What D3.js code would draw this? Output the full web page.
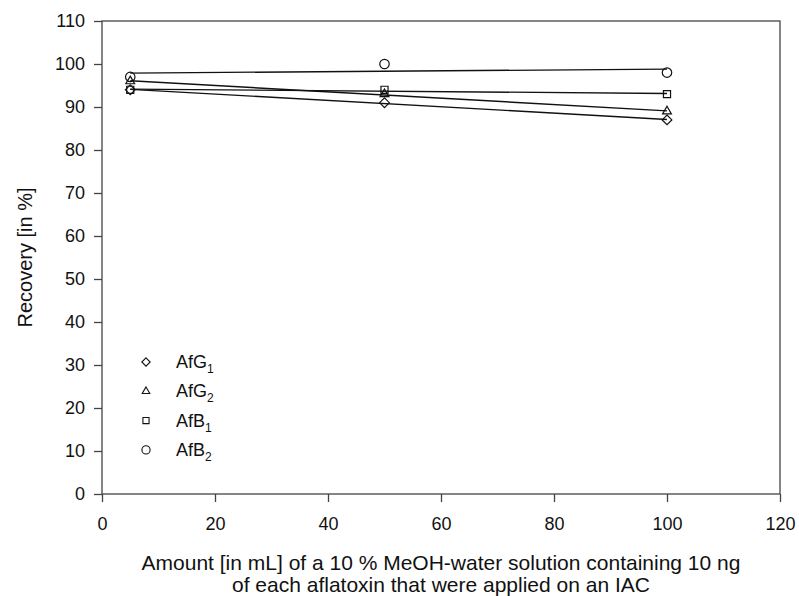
<!DOCTYPE html>
<html>
<head>
<meta charset="utf-8">
<script src="https://cdn.jsdelivr.net/npm/d3@7"></script>
<style>
	body { margin: 0; background: white; }
	text { font-family: 'Liberation Sans', Arial, sans-serif; fill: #111; }
</style>
</head>
<body>
<svg id="chart" width="799" height="596"></svg>
<script>
// data
var xValues = [5, 50, 100];
var afG1 = [94, 91, 87];
var afG2 = [96, 93, 89];
var afB1 = [94, 94, 93];
var afB2 = [97, 100, 98];
var seriesNames = ['AfG', 'AfG', 'AfB', 'AfB'];
var seriesSubs = ['1', '2', '1', '2'];
var seriesSymbols = ['diamond', 'triangle', 'square', 'circle'];
var xTicks = [0, 20, 40, 60, 80, 100, 120];
var yTicks = [0, 10, 20, 30, 40, 50, 60, 70, 80, 90, 100, 110];

var margin = {left: 102, top: 21, right: 19, bottom: 102};
var width = 799 - margin.left - margin.right;
var height = 596 - margin.top - margin.bottom;

var svg = d3.select('#chart');
var g = svg.append('g').attr('transform', 'translate(' + margin.left + ',' + margin.top + ')');

var x = d3.scaleLinear().domain([0, 120]).range([0, width]);
var y = d3.scaleLinear().domain([0, 110]).range([height, 0]);

// frame
g.append('rect')
	.attr('width', width).attr('height', height)
	.style('fill', 'none').style('stroke', '#444').style('stroke-width', 1.3);

// axes
let xaxis = g.append('g').attr('transform', 'translate(0,' + height + ')')
	.call(d3.axisBottom(x).tickValues(xTicks).tickSize(8).tickPadding(15));
let yaxis = g.append('g')
	.call(d3.axisLeft(y).tickValues(yTicks).tickSize(8).tickPadding(9));
[xaxis, yaxis].forEach(a => {
	a.select('.domain').remove();
	a.selectAll('line').style('stroke', '#444').style('stroke-width', 1.3);
	a.selectAll('text').style('font-size', '18px').style('fill', '#111')
		.style('font-family', "'Liberation Sans', Arial, sans-serif");
});

// symbols
let symbolTypes = {
	diamond: d3.symbolDiamond2 || d3.symbolDiamond,
	triangle: d3.symbolTriangle2 || d3.symbolTriangle,
	square: d3.symbolSquare2 || d3.symbolSquare,
	circle: d3.symbolCircle
};
let symbolSizes = {diamond: 60, triangle: 55, square: 64, circle: 70};
function symbolPath(name, k) {
	return d3.symbol().type(symbolTypes[name]).size(symbolSizes[name] * k)();
}

// regression line
function fit(xs, ys) {
	let mx = d3.mean(xs), my = d3.mean(ys);
	let sxy = d3.sum(xs, (v, i) => (v - mx) * (ys[i] - my));
	let sxx = d3.sum(xs, v => (v - mx) * (v - mx));
	let b = sxy / sxx;
	return v => my + b * (v - mx);
}

let allSeries = [afG1, afG2, afB1, afB2];
allSeries.forEach((vals, si) => {
	let f = fit(xValues, vals);
	let ends = [d3.min(xValues), d3.max(xValues)];
	g.append('path')
		.attr('d', d3.line().x(d => x(d)).y(d => y(f(d)))(ends))
		.style('fill', 'none').style('stroke', '#111').style('stroke-width', 1.4);
});
allSeries.forEach((vals, si) => {
	g.append('g').selectAll('path').data(vals).join('path')
		.attr('transform', (d, i) => 'translate(' + x(xValues[i]) + ',' + y(d) + ')')
		.attr('d', symbolPath(seriesSymbols[si], 1))
		.style('fill', 'none').style('stroke', '#111').style('stroke-width', 1.2);
});

// legend
let legend = svg.append('g').attr('transform', 'translate(146, 362)');
let rows = legend.selectAll('g').data(seriesNames).join('g')
	.attr('transform', (d, i) => 'translate(0,' + (i * 29.3) + ')');
rows.append('path')
	.attr('d', (d, i) => symbolPath(seriesSymbols[i], 0.75))
	.style('fill', 'none').style('stroke', '#111').style('stroke-width', 1.1);
let lt = rows.append('text').attr('x', 30).attr('y', 6).style('font-size', '18px');
lt.append('tspan').text(d => d);
lt.append('tspan').attr('dy', 5).style('font-size', '12px').text((d, i) => seriesSubs[i]);

// axis titles
svg.append('text')
	.attr('transform', 'translate(32,' + (margin.top + height / 2) + ') rotate(-90)')
	.attr('text-anchor', 'middle').style('font-size', '20px')
	.text('Recovery [in %]');
svg.append('text')
	.attr('x', margin.left + width / 2).attr('y', 570)
	.attr('text-anchor', 'middle').style('font-size', '21px')
	.text('Amount [in mL] of a 10 % MeOH-water solution containing 10 ng');
svg.append('text')
	.attr('x', margin.left + width / 2).attr('y', 592)
	.attr('text-anchor', 'middle').style('font-size', '21px')
	.text('of each aflatoxin that were applied on an IAC');
</script>
</body>
</html>
